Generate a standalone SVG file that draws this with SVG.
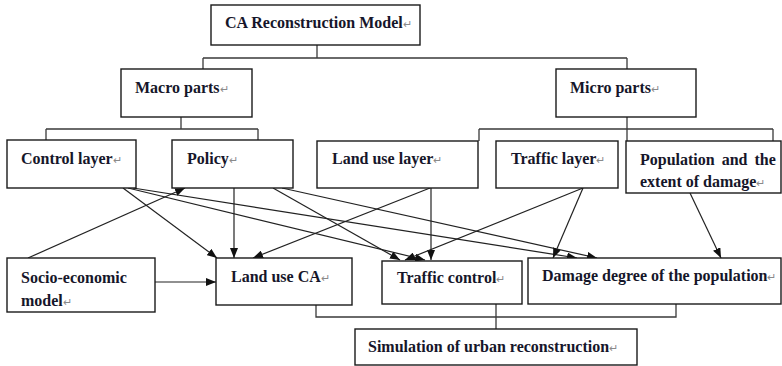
<svg xmlns="http://www.w3.org/2000/svg" width="782" height="366" viewBox="0 0 782 366">
  <defs>
    <marker id="arrow" viewBox="0 0 10 8" refX="10" refY="4" markerWidth="10" markerHeight="8" markerUnits="userSpaceOnUse" orient="auto">
      <path d="M0,0 L10,4 L0,8 z" fill="#111"/>
    </marker>
  </defs>
  <style>
    .box{fill:#fff;stroke:#1a1a1a;stroke-width:1.4}
    .lbl{font-family:"Liberation Serif","Times New Roman",serif;font-weight:bold;font-size:16px;fill:#16162a}
    .rt{font-size:11px;fill:#8a8a8a;font-weight:normal}
    .tree{fill:none;stroke:#3a3a3a;stroke-width:1.3}
    .arr{fill:none;stroke:#222;stroke-width:1.2;marker-end:url(#arrow)}
  </style>

  <rect width="782" height="366" fill="#fff"/>

  <!-- connectors -->
  <g id="connectors">
    <!-- hierarchy -->
    <path class="tree" d="M317,45 V58 M203,58 H627 M203,58 V69 M627,58 V69"/>
    <path class="tree" d="M181,117 V129 M46,129 H258 M46,129 V140 M258,129 V140"/>
    <path class="tree" d="M627,117 V141 M479,129 H773 M479,129 V141 M773,129 V141"/>
    <path class="tree" d="M316,305 V317 H676 V304 M496,304 V329"/>
    <!-- influences -->
    <line class="arr" x1="123" y1="188" x2="217" y2="258"/>
    <line class="arr" x1="128" y1="188" x2="425" y2="260"/>
    <line class="arr" x1="133" y1="188" x2="577" y2="258"/>
    <line class="arr" x1="234" y1="188" x2="234" y2="258"/>
    <line class="arr" x1="273" y1="188" x2="400" y2="260"/>
    <line class="arr" x1="282" y1="188" x2="597" y2="258"/>
    <line class="arr" x1="28" y1="258" x2="185" y2="188"/>
    <line class="arr" x1="430" y1="188" x2="253" y2="258"/>
    <line class="arr" x1="431" y1="188" x2="431" y2="260"/>
    <line class="arr" x1="583" y1="188" x2="405" y2="260"/>
    <line class="arr" x1="583" y1="188" x2="553" y2="258"/>
    <line class="arr" x1="690" y1="193" x2="721" y2="258"/>
    <line class="arr" x1="153" y1="282" x2="216" y2="282"/>
  </g>

  <!-- nodes -->
  <g id="ca-model">
    <rect class="box" x="211" y="5" width="209" height="40"/>
    <text class="lbl" x="225" y="28">CA Reconstruction Model<tspan class="rt">↵</tspan></text>
  </g>
  <g id="macro">
    <rect class="box" x="121" y="69" width="131" height="48"/>
    <text class="lbl" x="135" y="93">Macro parts<tspan class="rt">↵</tspan></text>
  </g>
  <g id="micro">
    <rect class="box" x="556" y="69" width="140" height="48"/>
    <text class="lbl" x="570" y="93">Micro parts<tspan class="rt">↵</tspan></text>
  </g>
  <g id="control-layer">
    <rect class="box" x="7" y="140" width="129" height="48"/>
    <text class="lbl" x="21" y="164">Control layer<tspan class="rt">↵</tspan></text>
  </g>
  <g id="policy">
    <rect class="box" x="172" y="140" width="121" height="48"/>
    <text class="lbl" x="187" y="164">Policy<tspan class="rt">↵</tspan></text>
  </g>
  <g id="land-use-layer">
    <rect class="box" x="317" y="141" width="161" height="47"/>
    <text class="lbl" x="332" y="164">Land use layer<tspan class="rt">↵</tspan></text>
  </g>
  <g id="traffic-layer">
    <rect class="box" x="496" y="141" width="122" height="47"/>
    <text class="lbl" x="511" y="164">Traffic layer<tspan class="rt">↵</tspan></text>
  </g>
  <g id="population">
    <rect class="box" x="626" y="141" width="155" height="52"/>
    <text class="lbl" x="640" y="165" word-spacing="3">Population and the</text>
    <text class="lbl" x="640" y="187">extent of damage<tspan class="rt">↵</tspan></text>
  </g>
  <g id="socio-economic">
    <rect class="box" x="7" y="258" width="148" height="54"/>
    <text class="lbl" x="21" y="283">Socio-economic</text>
    <text class="lbl" x="21" y="306">model<tspan class="rt">↵</tspan></text>
  </g>
  <g id="land-use-ca">
    <rect class="box" x="216" y="258" width="136" height="47"/>
    <text class="lbl" x="231" y="282">Land use CA<tspan class="rt">↵</tspan></text>
  </g>
  <g id="traffic-control">
    <rect class="box" x="382" y="261" width="140" height="43"/>
    <text class="lbl" x="397" y="283">Traffic control<tspan class="rt">↵</tspan></text>
  </g>
  <g id="damage-degree">
    <rect class="box" x="528" y="258" width="253" height="46"/>
    <text class="lbl" x="542" y="281">Damage degree of the population<tspan class="rt">↵</tspan></text>
  </g>
  <g id="simulation">
    <rect class="box" x="355" y="329" width="282" height="36"/>
    <text class="lbl" x="368" y="352">Simulation of urban reconstruction<tspan class="rt">↵</tspan></text>
  </g>
</svg>
